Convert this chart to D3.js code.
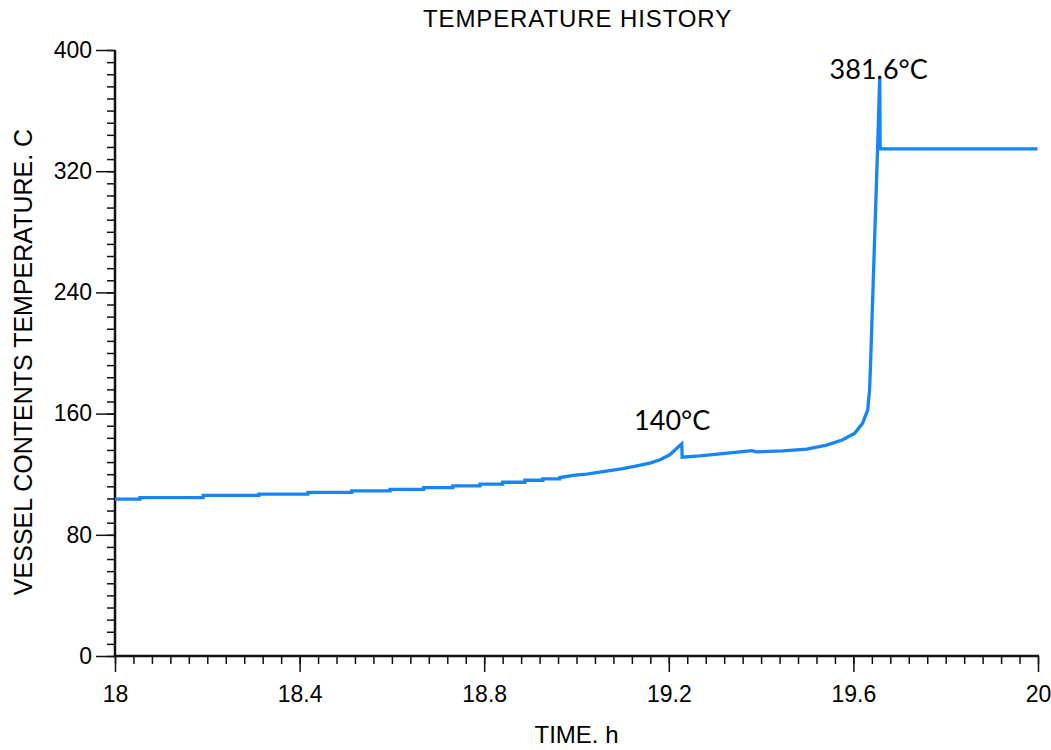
<!DOCTYPE html>
<html>
<head>
<meta charset="utf-8">
<script src="https://cdn.jsdelivr.net/npm/d3@7"></script>
<style>
  html, body { margin: 0; padding: 0; background: #fff; }
  svg { display: block; }
</style>
</head>
<body>
<svg id="chart" width="1051" height="750"></svg>
<script>
// Vessel contents temperature record (time in hours, temperature in °C)
const timeH = [
  18.000, 18.054, 18.054, 18.191, 18.191, 18.312, 18.312, 18.418, 18.418,
  18.513, 18.513, 18.596, 18.596, 18.669, 18.669, 18.732, 18.732, 18.791,
  18.791, 18.840, 18.840, 18.888, 18.888, 18.927, 18.927, 18.964, 18.964,
  18.997, 19.022, 19.050, 19.072, 19.100, 19.131, 19.159, 19.181, 19.202,
  19.228, 19.229, 19.267, 19.338, 19.380, 19.390, 19.447, 19.499, 19.542,
  19.577, 19.603, 19.620, 19.631, 19.635, 19.637, 19.653, 19.657, 19.658,
  19.999
];
const tempC = [
  103.5, 103.5, 104.6, 104.6, 106.0, 106.0, 106.9, 106.9, 108.0,
  108.0, 109.0, 109.0, 110.0, 110.0, 111.2, 111.2, 112.3, 112.3,
  113.4, 113.4, 114.7, 114.7, 116.0, 116.0, 116.9, 116.9, 117.8,
  119.4, 120.0, 121.3, 122.4, 123.7, 125.5, 127.3, 129.5, 132.8,
  140.0, 131.2, 132.1, 134.3, 135.6, 134.7, 135.4, 136.5, 139.2,
  142.7, 147.1, 153.7, 162.5, 175.7, 191.1, 340.8, 381.6, 334.7,
  334.7
];

// Axis ticks
const xMajor = [18, 18.4, 18.8, 19.2, 19.6, 20];
const yMajor = [0, 80, 160, 240, 320, 400];

// Peak annotations
const noteTime = [19.228, 19.657];
const noteTemp = [140, 381.6];
const noteText = ["140°C", "381.6°C"];

const svg = d3.select("#chart");
const margin = { left: 115, right: 13, top: 50, bottom: 94 };
const W = 1051, H = 750;

const x = d3.scaleLinear().domain([18, 20]).range([margin.left, W - margin.right]);
const y = d3.scaleLinear().domain([0, 400]).range([H - margin.bottom, margin.top]);

const axisFont = "'Liberation Sans', Arial, sans-serif";
const midX = (x.range()[0] + x.range()[1]) / 2;

// Title
svg.append("text")
  .attr("x", midX + 1)
  .attr("y", 27)
  .attr("text-anchor", "middle")
  .attr("font-family", axisFont)
  .attr("font-size", 24)
  .attr("letter-spacing", 0.9)
  .text("TEMPERATURE HISTORY");

// X axis: minor ticks every 0.04 h
const xMinor = d3.range(18, 20.0001, 0.04).map(v => +v.toFixed(2));
const gx = svg.append("g").attr("transform", `translate(0,${y(0)})`);
gx.append("g")
  .call(d3.axisBottom(x).tickValues(xMinor).tickSize(8).tickFormat(""))
  .call(g => g.select(".domain").remove())
  .selectAll("line").attr("stroke", "#111").attr("stroke-width", 1.5);
gx.append("g")
  .call(d3.axisBottom(x).tickValues(xMajor).tickSize(16).tickPadding(14)
    .tickFormat(d => d3.format("~g")(d)))
  .call(g => g.select(".domain").remove())
  .call(g => g.selectAll("line").attr("stroke", "#111").attr("stroke-width", 1.5))
  .call(g => g.selectAll("text").attr("font-family", axisFont).attr("font-size", 23).attr("fill", "#000"));
gx.append("line")
  .attr("x1", x(18) - 1).attr("x2", x(20) + 1)
  .attr("stroke", "#111").attr("stroke-width", 2.5);

// Y axis: minor ticks every 8 °C
const yMinor = d3.range(0, 400.001, 8);
const gy = svg.append("g").attr("transform", `translate(${x(18)},0)`);
gy.append("g")
  .call(d3.axisLeft(y).tickValues(yMinor).tickSize(8).tickFormat(""))
  .call(g => g.select(".domain").remove())
  .selectAll("line").attr("stroke", "#111").attr("stroke-width", 1.5);
gy.append("g")
  .call(d3.axisLeft(y).tickValues(yMajor).tickSize(19).tickPadding(4))
  .call(g => g.select(".domain").remove())
  .call(g => g.selectAll("line").attr("stroke", "#111").attr("stroke-width", 1.5))
  .call(g => g.selectAll("text").attr("font-family", axisFont).attr("font-size", 23).attr("fill", "#000"));
gy.append("line")
  .attr("y1", y(400)).attr("y2", y(0) + 1)
  .attr("stroke", "#111").attr("stroke-width", 2.5);

// Axis titles
svg.append("text")
  .attr("x", midX)
  .attr("y", 743)
  .attr("text-anchor", "middle")
  .attr("font-family", axisFont)
  .attr("font-size", 24)
  .text("TIME. h");

svg.append("text")
  .attr("transform", `translate(32,362) rotate(-90)`)
  .attr("text-anchor", "middle")
  .attr("font-family", axisFont)
  .attr("font-size", 25)
  .text("VESSEL CONTENTS TEMPERATURE. C");

// Temperature trace
const pts = timeH.map((t, i) => [t, tempC[i]]);
svg.append("path")
  .datum(pts)
  .attr("fill", "none")
  .attr("stroke", "#1685f8")
  .attr("stroke-width", 3.3)
  .attr("stroke-linejoin", "miter")
  .attr("d", d3.line().x(d => x(d[0])).y(d => y(d[1])));

// Peak labels
const noteDx = [-9.5, -1];
const noteDy = [-14, 1];
svg.selectAll(".note")
  .data(noteText)
  .join("text")
  .attr("class", "note")
  .attr("x", (d, i) => x(noteTime[i]) + noteDx[i])
  .attr("y", (d, i) => y(noteTemp[i]) + noteDy[i])
  .attr("text-anchor", "middle")
  .attr("font-family", "Lato, 'Open Sans', sans-serif")
  .attr("font-size", 27)
  .attr("fill", "#000")
  .text(d => d);
</script>
</body>
</html>
